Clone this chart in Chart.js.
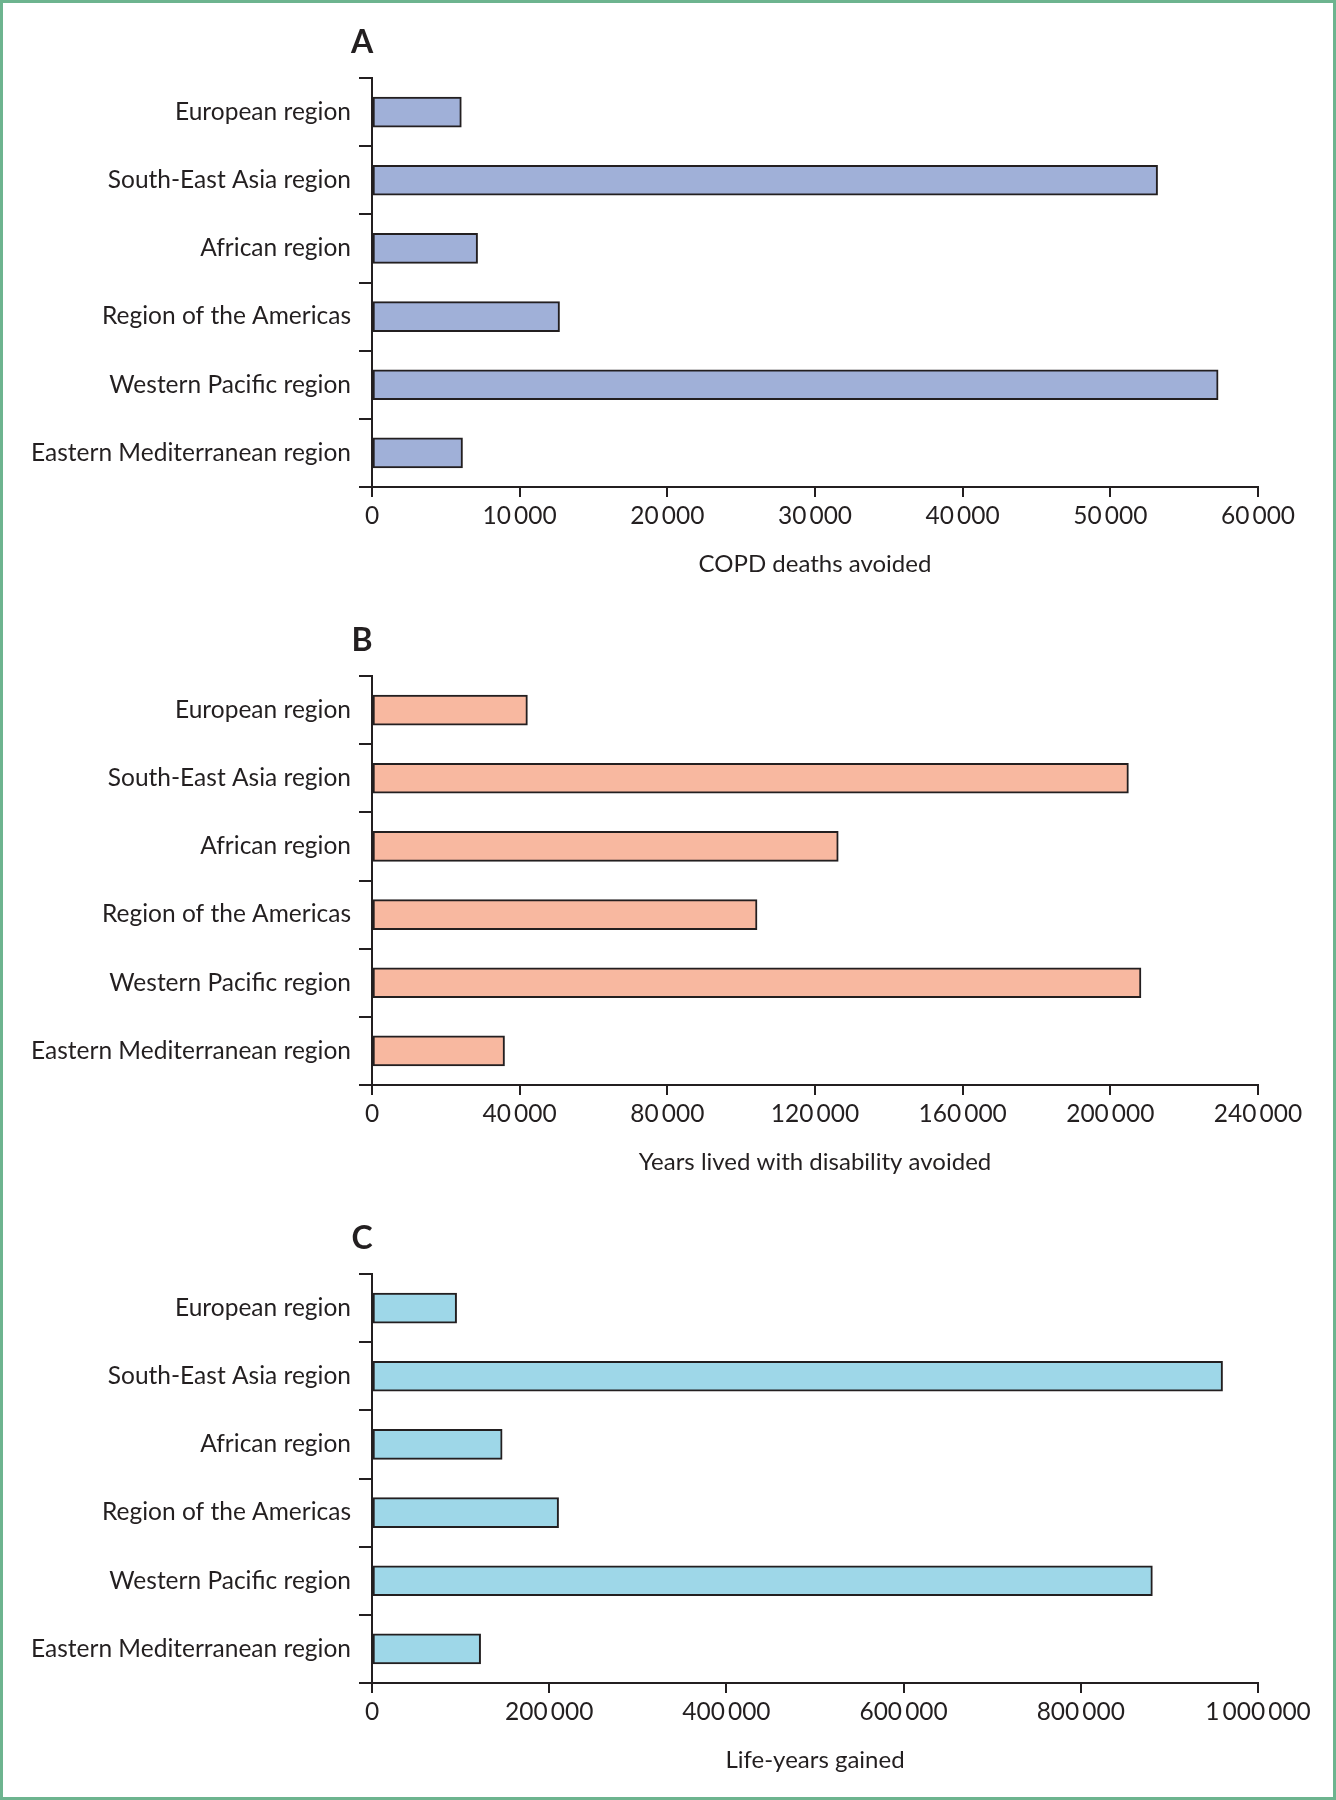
<!DOCTYPE html>
<html>
<head>
<meta charset="utf-8">
<script src="https://cdn.jsdelivr.net/npm/chart.js@4.4.1/dist/chart.umd.min.js"></script>
<style>
  html, body { margin: 0; padding: 0; background: #fff; }
  #frame {
    position: relative; width: 1336px; height: 1800px;
    box-sizing: border-box; border: 3px solid #6db48f; overflow: hidden;
  }
  .panel { position: absolute; left: -3px; width: 1336px; height: 598px; }
</style>
</head>
<body>
<div id="frame">
  <div class="panel" style="top:-3px"><canvas id="chartA"></canvas></div>
  <div class="panel" style="top:595px"><canvas id="chartB"></canvas></div>
  <div class="panel" style="top:1193px"><canvas id="chartC"></canvas></div>
</div>
<script>
// categories (top to bottom)
const regions = [
    'European region',
    'South-East Asia region',
    'African region',
    'Region of the Americas',
    'Western Pacific region',
    'Eastern Mediterranean region'
];

// A: COPD deaths avoided
const deathsAvoided = [6050, 53200, 7150, 12700, 57300, 6130];
// B: years lived with disability avoided
const yldAvoided = [42100, 204900, 126300, 104300, 208300, 35900];
// C: life-years gained
const lifeYearsGained = [95500, 960000, 146900, 210600, 880800, 122600];

// x axis ticks
const ticksA = [0, 10000, 20000, 30000, 40000, 50000, 60000];
const ticksB = [0, 40000, 80000, 120000, 160000, 200000, 240000];
const ticksC = [0, 200000, 400000, 600000, 800000, 1000000];

const FONT = 'Lato, sans-serif';
const INK = '#231f20';

// 10000 -> "10 000" with thin space, like the journal style
function fmt(v) {
    if (v < 10000) return String(v);
    return String(v).replace(/\B(?=(\d{3})+(?!\d))/g, '\u2009');
}

// panel letter above the y axis
const letterPlugin = {
    id: 'panelLetter',
    afterDraw(chart, args, opts) {
        const ctx = chart.ctx;
        ctx.save();
        ctx.font = 'bold 32px ' + FONT;
        ctx.fillStyle = INK;
        ctx.textAlign = 'center';
        ctx.textBaseline = 'middle';
        ctx.fillText(opts.text, chart.chartArea.left - 10, 43);
        ctx.restore();
    }
};

function makePanel(id, letter, values, ticks, color, title) {
    const ctx = document.getElementById(id).getContext('2d');
    return new Chart(ctx, {
        type: 'bar',
        data: {
            labels: regions,
            datasets: [{
                data: values,
                backgroundColor: color,
                borderColor: INK,
                borderWidth: 2,
                borderSkipped: false,
                barThickness: 30
            }]
        },
        options: {
            indexAxis: 'y',
            responsive: true,
            maintainAspectRatio: false,
            animation: false,
            layout: { padding: { top: 78, right: 78, bottom: 0, left: 0 } },
            plugins: {
                legend: { display: false },
                tooltip: { enabled: false },
                panelLetter: { text: letter }
            },
            scales: {
                y: {
                    type: 'category',
                    offset: true,
                    afterFit: s => { s.width = 372; },
                    grid: {
                        offset: true, drawOnChartArea: false,
                        tickLength: 13, color: INK, lineWidth: 2
                    },
                    border: { display: true, color: INK, width: 2 },
                    ticks: { color: INK, font: { family: FONT, size: 24.5 }, padding: 8 }
                },
                x: {
                    type: 'linear',
                    min: ticks[0],
                    max: ticks[ticks.length - 1],
                    afterFit: s => { s.height = 111; },
                    afterBuildTicks: s => { s.ticks = ticks.map(v => ({ value: v })); },
                    grid: {
                        drawOnChartArea: false, tickLength: 10,
                        color: INK, lineWidth: 2
                    },
                    border: { display: true, color: INK, width: 2 },
                    ticks: {
                        color: INK, font: { family: FONT, size: 24.5 }, padding: 4,
                        maxRotation: 0, autoSkip: false,
                        callback: v => fmt(v)
                    },
                    title: {
                        display: true, text: title, color: INK,
                        font: { family: FONT, size: 24 },
                        padding: { top: 0, bottom: 19 }
                    }
                }
            }
        },
        plugins: [letterPlugin]
    });
}

makePanel('chartA', 'A', deathsAvoided, ticksA, '#a0b0d8', 'COPD deaths avoided');
makePanel('chartB', 'B', yldAvoided, ticksB, '#f8b8a0', 'Years lived with disability avoided');
makePanel('chartC', 'C', lifeYearsGained, ticksC, '#9ed7e8', 'Life-years gained');
</script>
</body>
</html>
